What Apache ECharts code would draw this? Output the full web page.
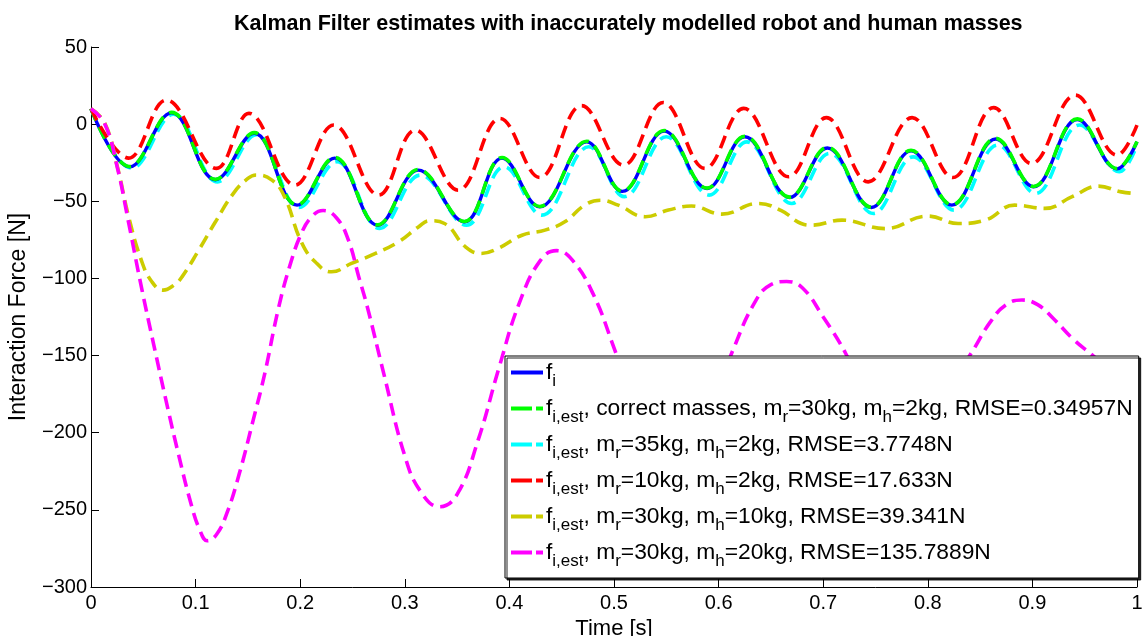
<!DOCTYPE html>
<html><head><meta charset="utf-8">
<script src="https://cdn.jsdelivr.net/npm/echarts@6/dist/echarts.min.js"></script>
<style>html,body{margin:0;padding:0;background:#fff}#c{width:1145px;height:636px}</style>
</head><body><div id="c"></div>
<script>
// ---- data ----
const xTickValues = [0, 0.1, 0.2, 0.3, 0.4, 0.5, 0.6, 0.7, 0.8, 0.9, 1];
const yTickValues = [50, 0, -50, -100, -150, -200, -250, -300];

// f_i (true interaction force) – extremes
const fiTime  = [0, 0.037, 0.077, 0.119, 0.156, 0.197, 0.233, 0.274, 0.313, 0.357, 0.393, 0.429, 0.474, 0.508, 0.548, 0.589, 0.625, 0.668, 0.704, 0.746, 0.784, 0.823, 0.865, 0.901, 0.943, 0.981, 1.0];
const fiForce = [10, -27.7, 7.3, -36, -5.9, -52.5, -22, -65.5, -29.8, -63.3, -22, -53.6, -11.5, -43.6, -4.5, -41.7, -8.2, -47.5, -15.5, -54, -17.3, -52.5, -9.6, -40.6, 3, -29, -11.4];

// f_i,est correct masses
const estCorrectTime  = [0, 0.037, 0.077, 0.119, 0.156, 0.197, 0.233, 0.274, 0.313, 0.357, 0.393, 0.429, 0.474, 0.508, 0.548, 0.589, 0.625, 0.668, 0.704, 0.746, 0.784, 0.823, 0.865, 0.901, 0.943, 0.981, 1.0];
const estCorrectForce = [10, -27.5, 7.6, -35.8, -5.5, -52.3, -21.6, -65.3, -29.4, -63.1, -21.6, -53.4, -11.1, -43.4, -4.1, -41.5, -7.8, -47.3, -15.1, -53.8, -16.9, -52.3, -9.2, -40.4, 3.4, -28.8, -11.2];

// f_i,est m_r=35kg
const estMr35Time  = [0, 0.039, 0.079, 0.121, 0.158, 0.199, 0.235, 0.276, 0.315, 0.359, 0.395, 0.431, 0.476, 0.510, 0.550, 0.591, 0.627, 0.670, 0.706, 0.748, 0.786, 0.825, 0.867, 0.903, 0.945, 0.983, 1.0];
const estMr35Force = [10, -28.5, 6.5, -37.4, -6.8, -54, -24.4, -67.6, -33, -65.5, -27.6, -59, -14.7, -47, -8.2, -46, -11.5, -51.4, -19, -57.9, -21.2, -55.7, -13.6, -44.9, -0.6, -30.9, -13.6];

// f_i,est m_r=10kg
const estMr10Time  = [0, 0.036, 0.072, 0.120, 0.151, 0.195, 0.232, 0.275, 0.310, 0.351, 0.391, 0.429, 0.469, 0.509, 0.547, 0.587, 0.624, 0.667, 0.703, 0.743, 0.785, 0.824, 0.863, 0.899, 0.941, 0.981, 1.0];
const estMr10Force = [10, -22, 15.6, -28.7, 7, -39.5, -0.6, -46, -3.9, -42.8, 3.7, -34.6, 12, -26.6, 14, -28.7, 10.2, -34.1, 4.2, -37.4, 4.2, -34.6, 10.7, -25.5, 18.8, -20.1, -0.6];

// f_i,est m_h=10kg
const estMh10Time  = [0, 0.013, 0.025, 0.036, 0.048, 0.058, 0.069, 0.080, 0.087, 0.103, 0.119, 0.136, 0.150, 0.158, 0.173, 0.185, 0.201, 0.214, 0.230, 0.249, 0.272, 0.294, 0.313, 0.324, 0.338, 0.358, 0.373, 0.389, 0.412, 0.434, 0.453, 0.472, 0.487, 0.504, 0.530, 0.552, 0.574, 0.603, 0.638, 0.660, 0.679, 0.689, 0.718, 0.759, 0.800, 0.829, 0.855, 0.883, 0.912, 0.938, 0.963, 0.985, 1.0];
const estMh10Force = [10, 1, -27, -60, -88, -102, -107.6, -104, -99, -81.7, -63.3, -45, -35.2, -33, -36.3, -47, -76.3, -89, -95.7, -90.3, -83.8, -76.3, -66.6, -62.6, -64.4, -79.5, -83.8, -80.6, -72, -68.7, -63.3, -52.5, -49.3, -52.5, -60, -55.7, -53.1, -58.3, -51.4, -56.1, -64.4, -65.5, -62.2, -67.7, -59.6, -64.4, -62.2, -52.5, -54.6, -47, -40.2, -43.9, -45];

// f_i,est m_h=20kg
const estMh20Time  = [0, 0.013, 0.025, 0.036, 0.048, 0.060, 0.072, 0.084, 0.096, 0.104, 0.111, 0.120, 0.130, 0.142, 0.155, 0.166, 0.179, 0.190, 0.201, 0.211, 0.222, 0.235, 0.246, 0.256, 0.264, 0.280, 0.300, 0.315, 0.333, 0.350, 0.370, 0.390, 0.410, 0.430, 0.445, 0.460, 0.480, 0.500, 0.520, 0.540, 0.557, 0.575, 0.595, 0.614, 0.635, 0.650, 0.665, 0.680, 0.700, 0.721, 0.740, 0.760, 0.777, 0.800, 0.820, 0.841, 0.860, 0.875, 0.890, 0.905, 0.920, 0.940, 0.956, 0.975, 1.0];
const estMh20Force = [10, 0.4, -27.6, -64, -105, -143, -180, -215, -247, -263, -270, -266, -252, -226, -192, -162, -120, -92, -71, -60, -56, -61, -75, -99, -118, -162, -215, -238, -248, -240, -205, -158, -115, -88, -82, -88, -110, -145, -183, -205, -212, -205, -180, -146, -115, -104, -102, -106, -125, -148, -175, -195, -200, -190, -170, -149, -128, -117, -114, -117, -126, -140, -149, -160, -170];

const seriesNames = ['fi', 'correct', 'mr35', 'mr10', 'mh10', 'mh20'];
const legendTexts = [
  'f{sub|i}',
  'f{sub|i,est}, correct masses, m{sub|r}=30kg, m{sub|h}=2kg, RMSE=0.34957N',
  'f{sub|i,est}, m{sub|r}=35kg, m{sub|h}=2kg, RMSE=3.7748N',
  'f{sub|i,est}, m{sub|r}=10kg, m{sub|h}=2kg, RMSE=17.633N',
  'f{sub|i,est}, m{sub|r}=30kg, m{sub|h}=10kg, RMSE=39.341N',
  'f{sub|i,est}, m{sub|r}=30kg, m{sub|h}=20kg, RMSE=135.7889N'
];
const seriesColors = ['#0000ff', '#00ff00', '#00ffff', '#ff0000', '#cccc00', '#ff00ff'];

// ---- build ----
function pairs(t, f) { return t.map((v, i) => [v, f[i]]); }
const dataSets = [
  pairs(fiTime, fiForce),
  pairs(estCorrectTime, estCorrectForce),
  pairs(estMr35Time, estMr35Force),
  pairs(estMr10Time, estMr10Force),
  pairs(estMh10Time, estMh10Force),
  pairs(estMh20Time, estMh20Force)
];
const drawOrder = [2, 0, 1, 3, 4, 5]; // cyan under blue/green
const FONT = 'Liberation Sans, Arial, Helvetica, sans-serif';
const ICON_SOLID = 'path://M0,0H32V4H0Z';
const ICON_DASH = 'path://M0,0H21V4H0Z M25,0H32V4H25Z';

const series = drawOrder.map(i => ({
  name: seriesNames[i],
  type: 'line',
  data: dataSets[i],
  smooth: i >= 4 ? 0.45 : 0.4,
  symbol: 'none',
  z: 2,
  lineStyle: {
    color: seriesColors[i],
    width: i === 0 ? 3.4 : 3.6,
    type: i === 0 ? 'solid' : [13, 7]
  },
  itemStyle: { color: seriesColors[i] },
  emphasis: { disabled: true },
  animation: false
}));

const labelMap = {};
seriesNames.forEach((n, i) => labelMap[n] = legendTexts[i]);

const chart = echarts.init(document.getElementById('c'), null, { renderer: 'canvas' });
chart.setOption({
  backgroundColor: '#ffffff',
  animation: false,
  title: {
    text: 'Kalman Filter estimates with inaccurately modelled robot and human masses',
    left: 229, top: 8,
    textStyle: { fontFamily: FONT, fontWeight: 'bold', fontSize: 21.5, color: '#000' }
  },
  grid: { left: 91, right: 8, top: 47, bottom: 49, containLabel: false, outerBoundsMode: 'none' },
  xAxis: {
    type: 'value', min: 0, max: 1, interval: 0.1,
    name: 'Time [s]', nameLocation: 'middle', nameGap: 29,
    nameTextStyle: { fontFamily: FONT, fontSize: 22, color: '#000' },
    axisLine: { show: true, onZero: false, lineStyle: { color: '#000', width: 1 } },
    axisTick: { show: true, inside: true, length: 8, lineStyle: { color: '#000' } },
    axisLabel: { fontFamily: FONT, fontSize: 20, color: '#000', margin: 6,
      formatter: v => String(Math.round(v * 10) / 10) },
    splitLine: { show: false }
  },
  yAxis: {
    type: 'value', min: -300, max: 50, interval: 50,
    name: 'Interaction Force [N]', nameLocation: 'middle', nameGap: 61,
    nameTextStyle: { fontFamily: FONT, fontSize: 23, color: '#000' },
    axisLine: { show: true, onZero: false, lineStyle: { color: '#000', width: 1 } },
    axisTick: { show: true, inside: true, length: 8, lineStyle: { color: '#000' } },
    axisLabel: { fontFamily: FONT, fontSize: 20, color: '#000', margin: 4,
      formatter: v => (v < 0 ? '\u2212' + Math.abs(v) : String(v)) },
    splitLine: { show: false }
  },
  legend: {
    show: true,
    z: 20,
    orient: 'vertical',
    left: 505, top: 356,
    padding: [5, 6, 8, 6],
    itemGap: 7,
    itemWidth: 32, itemHeight: 4,
    backgroundColor: '#ffffff',
    borderColor: '#000', borderWidth: 1, borderRadius: 0,
    shadowColor: 'rgba(0,0,0,0.85)', shadowOffsetX: 2, shadowOffsetY: 2, shadowBlur: 0,
    data: seriesNames.map((n, i) => ({ name: n, icon: i === 0 ? ICON_SOLID : ICON_DASH })),
    selectedMode: false,
    formatter: n => labelMap[n],
    textStyle: {
      fontFamily: FONT, fontSize: 22.8, color: '#000', padding: [0, 0, 0, -2],
      rich: { sub: { fontFamily: FONT, fontSize: 17, color: '#000', padding: [18, 0, 0, 0] } }
    }
  },
  series: series
});
</script>
</body></html>
